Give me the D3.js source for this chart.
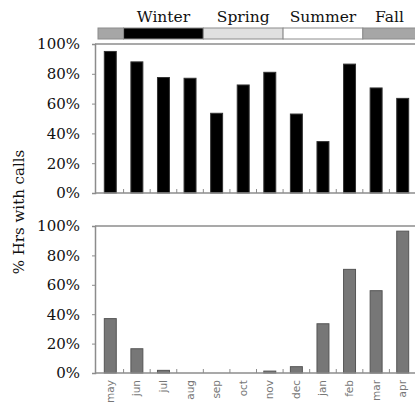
<!DOCTYPE html>
<html>
<head>
<meta charset="utf-8">
<script src="https://cdn.jsdelivr.net/npm/d3@7"></script>
<style>
  body { margin: 0; background: #fff; }
  svg { display: block; }
  .tick-label { font-family: "DejaVu Serif", serif; font-size: 15px; fill: #111; }
  .month-label { font-family: "DejaVu Sans", sans-serif; font-size: 10.5px; fill: #777; }
  .season-label { font-family: "DejaVu Serif", serif; font-size: 15.5px; fill: #111; }
</style>
</head>
<body>
<div id="chart"></div>
<script>
"use strict";

// Data
var months = ["may", "jun", "jul", "aug", "sep", "oct", "nov", "dec", "jan", "feb", "mar", "apr"];
var topValues = [95, 88, 77.5, 77, 53.5, 72.5, 81, 53, 34.5, 86.5, 70.5, 63.5];
var bottomValues = [37, 16.5, 1.8, 0, 0, 0, 1.3, 4.3, 33.5, 70.5, 56, 96.5];
var yTicks = [0, 20, 40, 60, 80, 100];
var seasonNames = ["", "Winter", "Spring", "Summer", "Fall"];
var seasonStart = ["may", "jun", "sep", "dec", "mar"];
var seasonEnd = ["may", "aug", "nov", "feb", "apr"];
var seasonFill = ["#a6a6a6", "#000000", "#e0e0e0", "#ffffff", "#a6a6a6"];

function renderChart(){

    var W = 415, H = 418;

    var svg = d3.select("#chart").append("svg")
        .attr("width", W)
        .attr("height", H);

    // x scale shared by both panels
    var xScale = d3.scaleBand()
        .domain(months)
        .range([97, 416])
        .paddingInner(0.55)
        .paddingOuter(0.275);

    var step = xScale.step();
    function bandLeft(m){ return xScale(m) - xScale.paddingInner() * step / 2; }

    var axisX = 95;

    function drawPanel(values, y0, y1, fill, stroke){
        var yScale = d3.scaleLinear().domain([0, 100]).range([y0, y1]);
        var g = svg.append("g");

        // top frame line
        g.append("line")
            .attr("x1", axisX).attr("x2", W)
            .attr("y1", yScale(100)).attr("y2", yScale(100))
            .attr("stroke", "#8c8c8c").attr("stroke-width", 1.5);

        // y axis
        var yAxis = d3.axisLeft(yScale)
            .tickValues(yTicks)
            .tickSize(3)
            .tickFormat(function(d){ return d + "%"; });
        var ya = g.append("g")
            .attr("transform", "translate(" + axisX + ",0)")
            .call(yAxis);
        ya.select(".domain").attr("stroke", "#8c8c8c").attr("stroke-width", 1.5);
        ya.selectAll(".tick line").attr("stroke", "#8c8c8c");
        ya.selectAll(".tick text")
            .attr("class", "tick-label")
            .attr("x", -15)
            .attr("font-size", null)
            .attr("font-family", null)
            .attr("fill", null);

        // bars
        g.selectAll(".bar")
            .data(values)
            .enter().append("rect")
            .attr("class", "bar")
            .attr("x", function(d, i){ return xScale(months[i]); })
            .attr("width", xScale.bandwidth())
            .attr("y", function(d){ return yScale(d); })
            .attr("height", function(d){ return y0 - yScale(d); })
            .attr("fill", fill)
            .attr("stroke", stroke)
            .attr("stroke-width", 1);

        // baseline with small ticks between bars
        g.append("line")
            .attr("x1", axisX).attr("x2", W)
            .attr("y1", y0).attr("y2", y0)
            .attr("stroke", "#8c8c8c").attr("stroke-width", 1.5);
        g.selectAll(".sep")
            .data(months.slice(1))
            .enter().append("line")
            .attr("x1", function(m){ return bandLeft(m); })
            .attr("x2", function(m){ return bandLeft(m); })
            .attr("y1", y0).attr("y2", y0 - 4)
            .attr("stroke", "#8c8c8c").attr("stroke-width", 1);

        return yScale;
    }

    drawPanel(topValues, 193, 44, "#000000", "#333333");
    drawPanel(bottomValues, 373, 226, "#777777", "#555555");

    // season strip
    var stripY = 28, stripH = 11;
    seasonNames.forEach(function(name, i){
        var x0 = Math.max(bandLeft(seasonStart[i]), 98);
        var x1 = bandLeft(seasonEnd[i]) + step;
        svg.append("rect")
            .attr("x", x0).attr("y", stripY)
            .attr("width", x1 - x0).attr("height", stripH)
            .attr("fill", seasonFill[i])
            .attr("stroke", "#8c8c8c").attr("stroke-width", 1);
        if(name){
            svg.append("text")
                .attr("class", "season-label")
                .attr("x", (x0 + x1) / 2)
                .attr("y", 22)
                .attr("text-anchor", "middle")
                .text(name);
        }
    });

    // month labels
    svg.selectAll(".month-label")
        .data(months)
        .enter().append("text")
        .attr("class", "month-label")
        .attr("transform", function(m){
            return "translate(" + (xScale(m) + xScale.bandwidth() / 2 + 3.5) + ",380)rotate(-90)";
        })
        .attr("text-anchor", "end")
        .text(function(m){ return m; });

    // y label
    svg.append("text")
        .attr("class", "tick-label")
        .attr("transform", "translate(24,212)rotate(-90)")
        .attr("text-anchor", "middle")
        .text("% Hrs with calls");
}

renderChart();
</script>
</body>
</html>
